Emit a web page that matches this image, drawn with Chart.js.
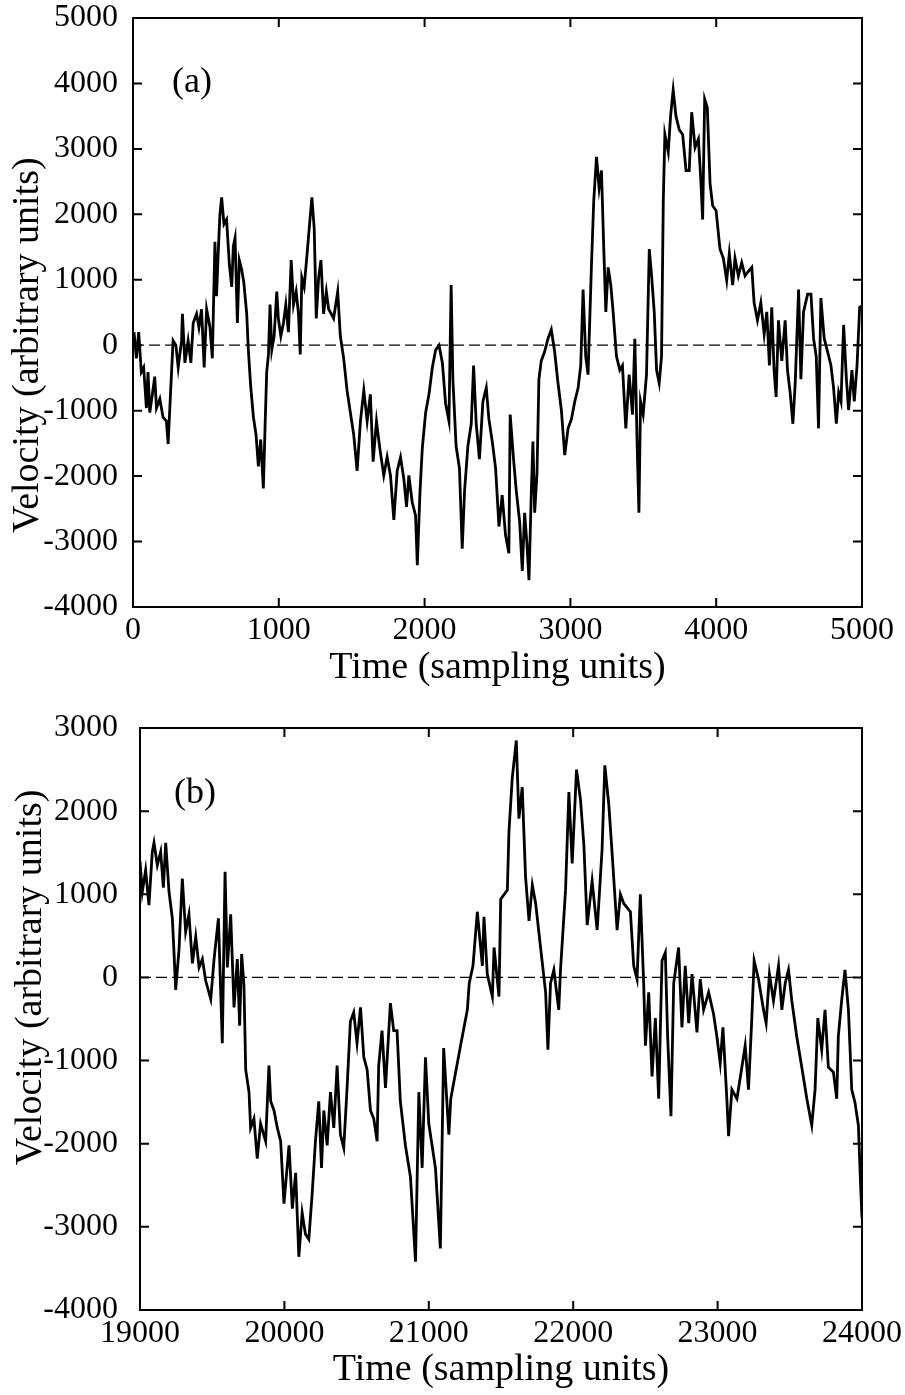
<!DOCTYPE html>
<html>
<head>
<meta charset="utf-8">
<title>Velocity</title>
<script src="https://cdn.jsdelivr.net/npm/chart.js@4.4.0/dist/chart.umd.min.js"></script>
<style>
  body { margin: 0; background: #fff; }
  canvas { display: block; }
</style>
</head>
<body>
<canvas id="chartA" width="905" height="700"></canvas>
<canvas id="chartB" width="905" height="695"></canvas>
<script>
// Panel (a) : temps 0 - 5000
const timeA = [0, 7, 23, 39, 57, 73, 92, 103, 115, 133, 149, 161, 184, 206, 229, 241, 257, 275, 294, 310,
  333, 339, 356, 378, 397, 413, 436, 452, 470, 488, 505, 528, 544, 562, 573, 585, 596, 608, 624, 642,
  661, 677, 688, 700, 716, 729, 745, 760, 780, 791, 807, 826, 844, 860, 876, 894, 906, 917, 929, 940,
  952, 968, 986, 997, 1014, 1032, 1048, 1066, 1085, 1101, 1119, 1135, 1147, 1158, 1174, 1193, 1211, 1227, 1243, 1257,
  1273, 1289, 1307, 1326, 1342, 1360, 1376, 1404, 1422, 1445, 1468, 1491, 1514, 1537, 1560, 1583, 1606, 1628, 1647, 1670,
  1693, 1720, 1743, 1766, 1789, 1812, 1835, 1858, 1876, 1892, 1915, 1938, 1950, 1968, 1984, 2007, 2030, 2053, 2076, 2099,
  2122, 2144, 2167, 2182, 2194, 2216, 2239, 2258, 2274, 2297, 2320, 2336, 2354, 2376, 2400, 2423, 2441, 2464, 2487, 2510,
  2532, 2555, 2578, 2587, 2610, 2629, 2652, 2670, 2686, 2702, 2716, 2732, 2743, 2755, 2771, 2784, 2800, 2823, 2846, 2869,
  2892, 2915, 2938, 2961, 2984, 3007, 3030, 3053, 3071, 3087, 3105, 3121, 3144, 3160, 3179, 3197, 3213, 3229, 3243, 3259,
  3277, 3293, 3316, 3339, 3357, 3380, 3403, 3426, 3442, 3458, 3470, 3481, 3499, 3522, 3541, 3557, 3575, 3591, 3609, 3625,
  3637, 3648, 3671, 3687, 3705, 3724, 3747, 3770, 3793, 3815, 3832, 3855, 3878, 3894, 3907, 3921, 3939, 3958, 3976, 3999,
  4026, 4049, 4072, 4090, 4113, 4129, 4152, 4175, 4198, 4221, 4244, 4260, 4283, 4306, 4329, 4347, 4365, 4381, 4397, 4411,
  4427, 4450, 4473, 4489, 4507, 4526, 4542, 4565, 4581, 4599, 4627, 4650, 4668, 4686, 4702, 4718, 4741, 4764, 4787, 4805,
  4824, 4840, 4856, 4874, 4893, 4908, 4931, 4947, 4966, 4984, 5000];
const velocityA = [0, 200, -200, 200, -410, -340, -960, -410, -1030, -750, -480, -960, -820, -1100, -1160, -1510, -750, 70, 0, -340,
  70, 480, -270, 70, -270, 340, 480, 270, 550, -340, 550, 270, -200, 1580, 750, 1440, 1990, 2260, 1850, 1920,
  1230, 890, 1510, 1640, 340, 1300, 1160, 960, 480, -70, -620, -1100, -1370, -1850, -1440, -2190, -1230, -410, -140, 620,
  -70, 140, 820, 410, 140, 340, 620, 200, 1300, 620, 820, 480, -140, 1030, 890, 1370, 1850, 2260, 1780, 410,
  1030, 1300, 480, 820, 550, 480, 410, 820, 140, -200, -690, -1030, -1370, -1920, -1160, -690, -1160, -750, -1780, -1160,
  -1580, -1990, -1710, -1990, -2670, -1920, -1710, -2050, -2470, -1990, -2400, -2600, -3360, -2260, -1580, -1030, -750, -340, -70, 0,
  -270, -890, -1160, 920, -520, -1540, -1880, -3110, -2230, -1540, -1200, -310, -1200, -1740, -860, -650, -1130, -1470, -1880, -2770,
  -2290, -2900, -3180, -1060, -1740, -2230, -2700, -3450, -2560, -3040, -3590, -2230, -1470, -2560, -1950, -520, -240, -100, 100, 240,
  -100, -580, -990, -1680, -1270, -1130, -860, -650, -310, 850, -170, -450, 1190, 2200, 2880, 2400, 2670, 1470, 510, 1190,
  920, 510, -170, -380, -310, -1270, -450, -1060, 100, -1540, -2560, -860, -1060, -450, 1470, 1060, 510, -380, -580, -170,
  2200, 3220, 2950, 3500, 3900, 3500, 3290, 3220, 2670, 2670, 3560, 3020, 3150, 2540, 1920, 3760, 3630, 2470, 2130, 2060,
  1470, 1330, 990, 1400, 920, 1330, 1060, 1260, 1060, 1130, 1190, 650, 380, 650, 170, 510, -310, 580, -380, -790,
  380, -240, 380, -380, -720, -1200, -580, 850, -520, 510, 780, 780, 100, -170, -1270, 720, 100, -100, -310, -650,
  -1200, -720, -860, 310, -520, -990, -380, -860, -310, 580, 600];

// Panel (b) : temps 19000 - 24000
const timeB = [19000, 19016, 19039, 19062, 19085, 19097, 19120, 19143, 19162, 19178, 19201, 19224, 19236, 19247, 19270, 19293, 19316, 19339, 19363, 19386,
  19409, 19432, 19455, 19490, 19513, 19543, 19570, 19589, 19605, 19628, 19651, 19674, 19690, 19704, 19720, 19732, 19755, 19766, 19789, 19812,
  19835, 19870, 19893, 19905, 19928, 19951, 19974, 19997, 20032, 20055, 20078, 20100, 20123, 20146, 20169, 20192, 20215, 20238, 20257, 20273,
  20296, 20319, 20342, 20365, 20388, 20411, 20434, 20457, 20480, 20503, 20527, 20550, 20573, 20596, 20619, 20642, 20653, 20676, 20700, 20734,
  20757, 20780, 20803, 20838, 20873, 20908, 20931, 20954, 20977, 21000, 21046, 21080, 21103, 21139, 21152, 21220, 21267, 21280, 21306, 21336,
  21371, 21382, 21405, 21440, 21452, 21486, 21498, 21544, 21555, 21578, 21606, 21624, 21647, 21670, 21694, 21717, 21740, 21774, 21809, 21825,
  21843, 21866, 21900, 21912, 21947, 21970, 21993, 22023, 22051, 22074, 22097, 22131, 22166, 22200, 22219, 22247, 22270, 22304, 22327, 22350,
  22396, 22419, 22442, 22465, 22488, 22500, 22523, 22546, 22569, 22592, 22615, 22638, 22654, 22677, 22696, 22730, 22753, 22776, 22800, 22823,
  22857, 22880, 22903, 22938, 22972, 22995, 23018, 23037, 23064, 23076, 23099, 23134, 23168, 23191, 23214, 23237, 23253, 23283, 23318, 23336,
  23359, 23387, 23422, 23445, 23468, 23491, 23514, 23548, 23583, 23618, 23652, 23675, 23694, 23721, 23744, 23767, 23802, 23825, 23836, 23859,
  23882, 23906, 23929, 23952, 23975, 23991, 24000];
const velocityB = [1400, 1030, 1290, 870, 1510, 1620, 1350, 1510, 1080, 1620, 1030, 710, 280, -150, 330, 1190, 550, 760, 170, 490,
  120, 220, -40, -260, 220, 710, -790, 1270, 120, 760, -360, 220, -580, 280, -100, -1110, -1380, -1810, -1700, -2180,
  -1760, -1970, -1060, -1490, -1600, -1810, -1970, -2720, -2020, -2780, -2350, -3360, -2830, -3090, -3150, -2610, -1970, -1490, -2290, -1600,
  -2020, -1380, -1810, -1060, -1890, -2050, -1330, -530, -420, -790, -360, -960, -1110, -1600, -1700, -1970, -1060, -640, -1330, -310,
  -640, -640, -1490, -2020, -2400, -3420, -1380, -2290, -960, -1760, -2290, -3260, -850, -1890, -1460, -820, -390, -70, 140, 790,
  140, 730, 40, -230, 360, -230, 940, 1050, 1750, 2400, 2850, 1910, 2290, 1210, 680, 1110, 890, 360, -180, -870,
  -70, 90, -390, 90, 1050, 2230, 1370, 2500, 2130, 1590, 630, 1160, 570, 1540, 2550, 2070, 1480, 570, 1000, 890,
  790, 140, -20, 1000, -70, -820, -180, -1190, -490, -1460, 200, 300, -710, -1670, -70, 360, -600, 140, -550, 40,
  -660, -20, -390, -180, -440, -710, -1030, -600, -1460, -1910, -1350, -1460, -1080, -820, -1350, -490, 200, -20, -390, -550,
  40, -280, 140, -390, -70, 90, -280, -710, -1080, -1460, -1780, -1350, -490, -870, -390, -1080, -1140, -1460, -710, -280,
  90, -390, -1350, -1510, -1780, -2530, -2900];

const yTicksA = [-4000, -3000, -2000, -1000, 0, 1000, 2000, 3000, 4000, 5000];
const xTicksA = [0, 1000, 2000, 3000, 4000, 5000];
const yTicksB = [-4000, -3000, -2000, -1000, 0, 1000, 2000, 3000];
const xTicksB = [19000, 20000, 21000, 22000, 23000, 24000];

const SERIF = '"Liberation Serif", "Times New Roman", serif';
Chart.defaults.font.family = SERIF;
Chart.defaults.color = '#000';

// cadre + graduations vers l'intérieur, étiquette du panneau, titre de l'axe y
const cadrePlugin = {
  id: 'cadre',
  afterDraw(chart, args, opts) {
    const { ctx, chartArea: a, scales: { x, y } } = chart;
    const len = 9;
    ctx.save();
    ctx.strokeStyle = '#000';
    ctx.lineWidth = 2;
    ctx.strokeRect(a.left, a.top, a.right - a.left, a.bottom - a.top);
    ctx.beginPath();
    x.ticks.forEach(t => {
      const px = x.getPixelForValue(t.value);
      ctx.moveTo(px, a.bottom); ctx.lineTo(px, a.bottom - len);
      ctx.moveTo(px, a.top); ctx.lineTo(px, a.top + len);
    });
    y.ticks.forEach(t => {
      const py = y.getPixelForValue(t.value);
      ctx.moveTo(a.left, py); ctx.lineTo(a.left + len, py);
      ctx.moveTo(a.right, py); ctx.lineTo(a.right - len, py);
    });
    ctx.stroke();

    ctx.fillStyle = '#000';
    ctx.font = '36px ' + SERIF;
    ctx.textAlign = 'center';
    ctx.textBaseline = 'middle';
    ctx.fillText(opts.label, a.left + opts.labelDx, a.top + opts.labelDy);

    ctx.font = '38px ' + SERIF;
    ctx.translate(opts.titleX, y.getPixelForValue(0));
    ctx.rotate(-Math.PI / 2);
    ctx.fillText('Velocity (arbitrary units)', 0, 0);
    ctx.restore();
  }
};

function makePanel(id, times, values, xTicks, yTicks, cfg) {
  const points = times.map((t, i) => ({ x: t, y: values[i] }));
  const zero = [{ x: xTicks[0], y: 0 }, { x: xTicks[xTicks.length - 1], y: 0 }];
  return new Chart(document.getElementById(id), {
    type: 'line',
    data: {
      datasets: [
        { data: zero, borderColor: '#000', borderWidth: 1.2, borderDash: [11, 5], pointRadius: 0 },
        { data: points, borderColor: '#000', borderWidth: 2.8, pointRadius: 0, tension: 0 }
      ]
    },
    options: {
      responsive: false,
      animation: false,
      layout: { padding: { left: 0, right: 43, top: cfg.top, bottom: 0 } },
      plugins: {
        legend: { display: false },
        tooltip: { enabled: false },
        cadre: { label: cfg.label, labelDx: cfg.labelDx, labelDy: cfg.labelDy, titleX: cfg.titleX }
      },
      scales: {
        x: {
          type: 'linear',
          min: xTicks[0], max: xTicks[xTicks.length - 1],
          afterBuildTicks: s => { s.ticks = xTicks.map(v => ({ value: v })); },
          afterFit: s => { s.height = cfg.xHeight; s.paddingLeft = 0; s.paddingRight = 0; },
          grid: { display: false, drawTicks: false },
          border: { display: false },
          ticks: { autoSkip: false, maxRotation: 0, padding: 4, font: { size: 32 }, callback: v => String(v) },
          title: { display: true, text: 'Time (sampling units)', font: { size: 38 }, padding: { top: 0, bottom: cfg.titlePad } }
        },
        y: {
          min: yTicks[0], max: yTicks[yTicks.length - 1],
          afterBuildTicks: s => { s.ticks = yTicks.map(v => ({ value: v })); },
          afterFit: s => { s.width = cfg.yWidth; s.paddingTop = 0; s.paddingBottom = 0; },
          grid: { display: false, drawTicks: false },
          border: { display: false },
          ticks: { padding: cfg.yPad, font: { size: 32 }, callback: v => String(v) }
        }
      }
    },
    plugins: [cadrePlugin]
  });
}

makePanel('chartA', timeA, velocityA, xTicksA, yTicksA,
  { top: 18, xHeight: 93, yWidth: 133, yPad: 15, titlePad: 9, label: '(a)', labelDx: 59, labelDy: 65, titleX: 28 });
makePanel('chartB', timeB, velocityB, xTicksB, yTicksB,
  { top: 28, xHeight: 85, yWidth: 140, yPad: 22, titlePad: 2, label: '(b)', labelDx: 55, labelDy: 66, titleX: 31 });
</script>
</body>
</html>
